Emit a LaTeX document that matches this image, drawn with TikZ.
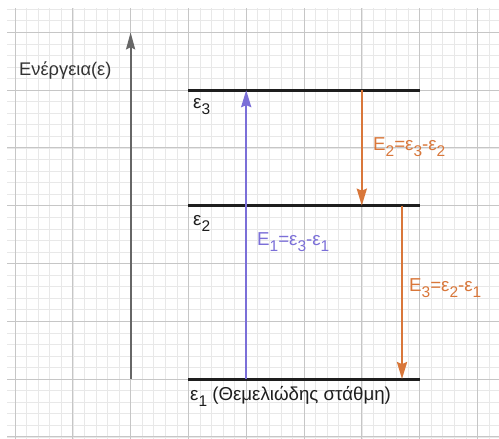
\documentclass[tikz,border=0pt]{standalone}
\usepackage{fontspec}
\setmainfont{Liberation Sans}
\usetikzlibrary{arrows.meta}
\definecolor{gridmajor}{HTML}{C6C6C6}
\definecolor{gridminor}{HTML}{E8E8E8}
\definecolor{axisgray}{HTML}{666666}
\definecolor{levelblack}{HTML}{1E1E1E}
\definecolor{blueline}{HTML}{7B6FD8}
\definecolor{orangeline}{HTML}{D9773A}
\definecolor{textgray}{HTML}{333333}
\newcommand\lowsub[1]{\raisebox{-6pt}{\fontsize{15.5}{16}\selectfont #1}}
\tikzset{
  minorline/.style={gridminor, line width=0.6pt},
  majorline/.style={gridmajor, line width=0.9pt},
  levelline/.style={levelblack, line width=3pt},
  axisarrow/.style={axisgray, line width=2pt, -{Stealth[length=17pt,width=9pt,inset=2pt]}},
  bluearrow/.style={blueline, line width=2.5pt, -{Stealth[length=17pt,width=10pt,inset=2pt]}},
  orangearrow/.style={orangeline, line width=2.5pt, -{Stealth[length=17pt,width=10pt,inset=2pt]}},
  lbl/.style={anchor=base west, inner sep=0pt, font=\fontsize{18.7}{21}\selectfont},
}
\begin{document}
\begin{tikzpicture}[x=1pt,y=-1pt]
\useasboundingbox (0,0) rectangle (499,439);
\fill[white] (0,0) rectangle (499,439);
\begin{scope}
\clip (7,8) rectangle (499,439);
\foreach \i in {-1,...,42} \draw[minorline] ({15+11.56*\i},0) -- ({15+11.56*\i},439);
\foreach \j in {-3,...,36} \draw[minorline] (0,{32.3+11.56*\j}) -- (499,{32.3+11.56*\j});
\foreach \i in {0,...,8} \draw[majorline] ({15+57.8*\i},0) -- ({15+57.8*\i},439);
\foreach \j in {0,...,7} \draw[majorline] (0,{32.3+57.8*\j}) -- (499,{32.3+57.8*\j});
\end{scope}

\coordinate (axisB) at (130.6,379);
\coordinate (axisT) at (130.6,32.3);
\coordinate (l3a) at (188.4,90.1);
\coordinate (l3b) at (420,90.1);
\coordinate (l2a) at (188.4,205.7);
\coordinate (l2b) at (420,205.7);
\coordinate (l1a) at (188.4,379.1);
\coordinate (l1b) at (420,379.1);
\coordinate (bs) at (246.2,379.1);
\coordinate (be) at (246.2,90.1);
\coordinate (o1s) at (361.8,90.1);
\coordinate (o1e) at (361.8,205.7);
\coordinate (o2s) at (402,205.7);
\coordinate (o2e) at (402,379.1);

\draw[axisarrow] (axisB) -- (axisT);
\draw[levelline] (l3a) -- (l3b);
\draw[levelline] (l2a) -- (l2b);
\draw[levelline] (l1a) -- (l1b);
\draw[bluearrow] (bs) -- (be);
\draw[orangearrow] (o1s) -- (o1e);
\draw[orangearrow] (o2s) -- (o2e);

\node[lbl, textgray, font=\fontsize{18.3}{21}\selectfont] (energy) at (19,75) {Ενέργεια(ε)};
\node[lbl, levelblack] (e3) at (193,108) {ε\lowsub{3}};
\node[lbl, levelblack] (e2) at (193,225) {ε\lowsub{2}};
\node[lbl, levelblack] (e1) at (190,400) {ε\lowsub{1} (Θεμελιώδης στάθμη)};
\node[lbl, blueline] (E1) at (257,245) {E\lowsub{1}=ε\lowsub{3}-ε\lowsub{1}};
\node[lbl, orangeline] (E2) at (373,150) {E\lowsub{2}=ε\lowsub{3}-ε\lowsub{2}};
\node[lbl, orangeline] (E3) at (409,291) {E\lowsub{3}=ε\lowsub{2}-ε\lowsub{1}};
\end{tikzpicture}
\end{document}
